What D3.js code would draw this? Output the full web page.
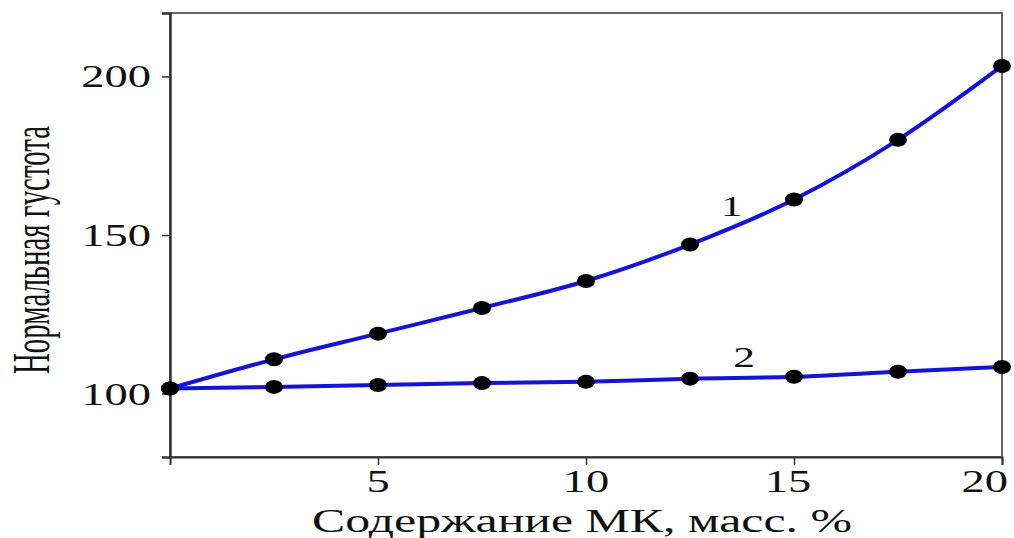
<!DOCTYPE html>
<html>
<head>
<meta charset="utf-8">
<script src="https://cdn.jsdelivr.net/npm/d3@7"></script>
<style>
  body { margin: 0; background: #fff; }
  text { font-family: "Liberation Serif", "Times New Roman", serif; fill: #111; }
</style>
</head>
<body>
<div id="chart"></div>
<script>
// content of MK, mass %
const mkContent = [0, 2.5, 5, 7.5, 10, 12.5, 15, 17.5, 20];
// normal consistency, curve 1 and curve 2
const curve1 = [101.6, 110.8, 118.9, 127.0, 135.5, 147.0, 161.2, 180.0, 203.3];
const curve2 = [101.6, 102.1, 102.7, 103.3, 103.7, 104.7, 105.3, 106.9, 108.4];
const xTicks = [5, 10, 15, 20];
const yTicks = [100, 150, 200];
const curveLabels = [
  { name: '1', x: 13.5, y: 156 },
  { name: '2', x: 13.8, y: 108.5 }
];

const width = 1014, height = 538;
const margin = { top: 13, right: 12, bottom: 81, left: 170 };
const stretch = 1.5;  // the original picture is stretched sideways

const svg = d3.select('#chart').append('svg')
  .attr('width', width)
  .attr('height', height);

const xScale = d3.scaleLinear()
  .domain([0, 20])
  .range([margin.left, width - margin.right]);

const yScale = d3.scaleLinear()
  .domain([80, 220])
  .range([height - margin.bottom, margin.top]);

// frame
svg.append('rect')
  .attr('x', xScale(0))
  .attr('y', yScale(220))
  .attr('width', xScale(20) - xScale(0))
  .attr('height', yScale(80) - yScale(220))
  .attr('fill', 'none')
  .attr('stroke', '#444')
  .attr('stroke-width', 1.6);

const xAxis = svg.append('g')
  .attr('transform', `translate(0,${yScale(80)})`)
  .call(d3.axisBottom(xScale).tickValues(xTicks).tickSize(8).tickFormat(''));
xAxis.select('.domain').attr('stroke', '#333').attr('stroke-width', 2);
xAxis.selectAll('line').attr('stroke', '#333').attr('stroke-width', 1.5);

const yAxis = svg.append('g')
  .attr('transform', `translate(${xScale(0)},0)`)
  .call(d3.axisLeft(yScale).tickValues(yTicks).tickSize(8).tickFormat(''));
yAxis.select('.domain').attr('stroke', '#333').attr('stroke-width', 2.5);
yAxis.selectAll('line').attr('stroke', '#333').attr('stroke-width', 1.5);

function stretchedText(x, y, str, size, anchor) {
  return svg.append('text')
    .attr('transform', `translate(${x},${y}) scale(${stretch},1)`)
    .attr('text-anchor', anchor)
    .style('font-size', size + 'px')
    .text(str);
}

// the last x label sits inside the picture, pulled left of its tick
xTicks.forEach((t, i) => {
  if (i === xTicks.length - 1) stretchedText(width - 6, yScale(80) + 35, t, 31, 'end');
  else stretchedText(xScale(t) - (t > 10 ? 6 : 0), yScale(80) + 35, t, 31, 'middle');
});
yTicks.forEach(t => stretchedText(xScale(0) - 19, yScale(t) + 11, t, 31, 'end'));

// axis titles
svg.append('text')
  .attr('x', 582)
  .attr('y', 532)
  .attr('text-anchor', 'middle')
  .attr('textLength', 540)
  .attr('lengthAdjust', 'spacingAndGlyphs')
  .style('font-size', '33px')
  .text('Содержание МК, масс. %');

svg.append('text')
  .attr('transform', 'translate(49,250) rotate(-90)')
  .attr('text-anchor', 'middle')
  .attr('textLength', 248)
  .attr('lengthAdjust', 'spacingAndGlyphs')
  .style('font-size', '52px')
  .text('Нормальная густота');

const line = d3.line()
  .x((d, i) => xScale(mkContent[i]))
  .y(d => yScale(d))
  .curve(d3.curveMonotoneX);

[curve1, curve2].forEach(series => {
  svg.append('path')
    .datum(series)
    .attr('d', line)
    .attr('fill', 'none')
    .attr('stroke', '#1414d6')
    .attr('stroke-width', 4);

  svg.append('g').selectAll('ellipse')
    .data(series)
    .join('ellipse')
    .attr('cx', (d, i) => xScale(mkContent[i]))
    .attr('cy', d => yScale(d))
    .attr('rx', 9)
    .attr('ry', 7)
    .attr('fill', '#000');
});

curveLabels.forEach(l => stretchedText(xScale(l.x), yScale(l.y), l.name, 29, 'middle'));
</script>
</body>
</html>
